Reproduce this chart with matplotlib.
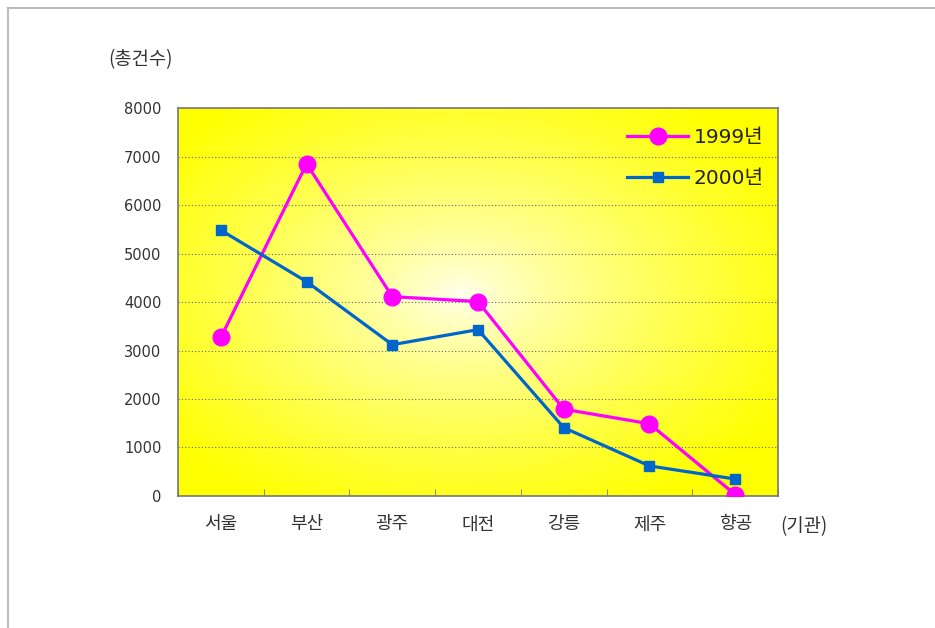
import matplotlib
matplotlib.use("Agg")
import matplotlib.pyplot as plt
import numpy as np
from matplotlib.lines import Line2D

plt.rcParams['font.family'] = ['DejaVu Sans', 'Noto Sans CJK KR']
KR = ['Noto Sans CJK KR', 'DejaVu Sans']

# data
agencies = ['서울', '부산', '광주', '대전', '강릉', '제주', '향공']
y1999 = [3270, 6850, 4110, 4010, 1790, 1490, 30]
y2000 = [5480, 4420, 3120, 3430, 1410, 620, 350]
yticks = [0, 1000, 2000, 3000, 4000, 5000, 6000, 7000, 8000]

fig = plt.figure(figsize=(9.35, 6.28), dpi=100)
ax = fig.add_axes([0.1904, 0.2102, 0.6417, 0.6178])

# radial yellow->white background
gx, gy = np.meshgrid(np.linspace(0, 1, 400), np.linspace(0, 1, 300))
r = np.sqrt(((gx - 0.47) / 0.62) ** 2 + ((gy - 0.52) / 0.62) ** 2)
t = np.clip(r, 0, 1) ** 0.75
img = np.zeros(gy.shape + (3,))
img[..., 0] = 1.0
img[..., 1] = 1.0
img[..., 2] = 0.95 * (1 - t)
ax.imshow(img, extent=[0, 1, 0, 1], transform=ax.transAxes, origin='lower',
          aspect='auto', zorder=0)

x = np.arange(len(agencies))
ax.plot(x, y1999, color='#FF00FF', lw=2.3, marker='o', ms=12, label='1999년', zorder=3)
ax.plot(x, y2000, color='#0066CC', lw=2.3, marker='s', ms=7.5, label='2000년', zorder=4)

ax.set_xlim(-0.5, len(agencies) - 0.5)
ax.set_ylim(0, 8000)
ax.set_yticks(yticks)
ax.set_yticklabels([str(v) for v in yticks], fontsize=10.5, color='#333333')
ax.tick_params(axis='y', length=0, pad=12)

ax.set_xticks(x)
ax.set_xticklabels(agencies, fontsize=13, color='#333333', family=KR)
ax.set_xticks(np.arange(len(agencies) + 1) - 0.5, minor=True)
ax.tick_params(axis='x', which='major', length=0, pad=14)
ax.tick_params(axis='x', which='minor', direction='in', length=5, color='#777777')

for v in yticks[1:-1]:
    ax.axhline(v, color='#666666', lw=0.8, ls=(0, (1, 2)), zorder=1)

for s in ax.spines.values():
    s.set_color('#777777')
    s.set_linewidth(1.2)

leg = ax.legend(loc='upper right', frameon=False, fontsize=14.5, handlelength=3.0,
                handletextpad=0.3, bbox_to_anchor=(1.0, 0.985), labelspacing=1.1,
                borderaxespad=0.3)
for txt in leg.get_texts():
    txt.set_color('#222222')

fig.text(140 / 935, 1 - 60 / 628, '(총건수)', fontsize=13.5, color='#333333',
         ha='center', va='center', family=KR)
fig.text(804 / 935, 1 - 527 / 628, '(기관)', fontsize=13.5, color='#333333',
         ha='center', va='center', family=KR)

# outer frame, top and left edges
fig.add_artist(Line2D([8 / 935, 1], [1 - 8 / 628, 1 - 8 / 628], color='#BBBBBB', lw=1.5,
                      transform=fig.transFigure))
fig.add_artist(Line2D([8 / 935, 8 / 935], [0, 1 - 8 / 628], color='#BBBBBB', lw=1.5,
                      transform=fig.transFigure))

fig.savefig('out.png', dpi=100)
